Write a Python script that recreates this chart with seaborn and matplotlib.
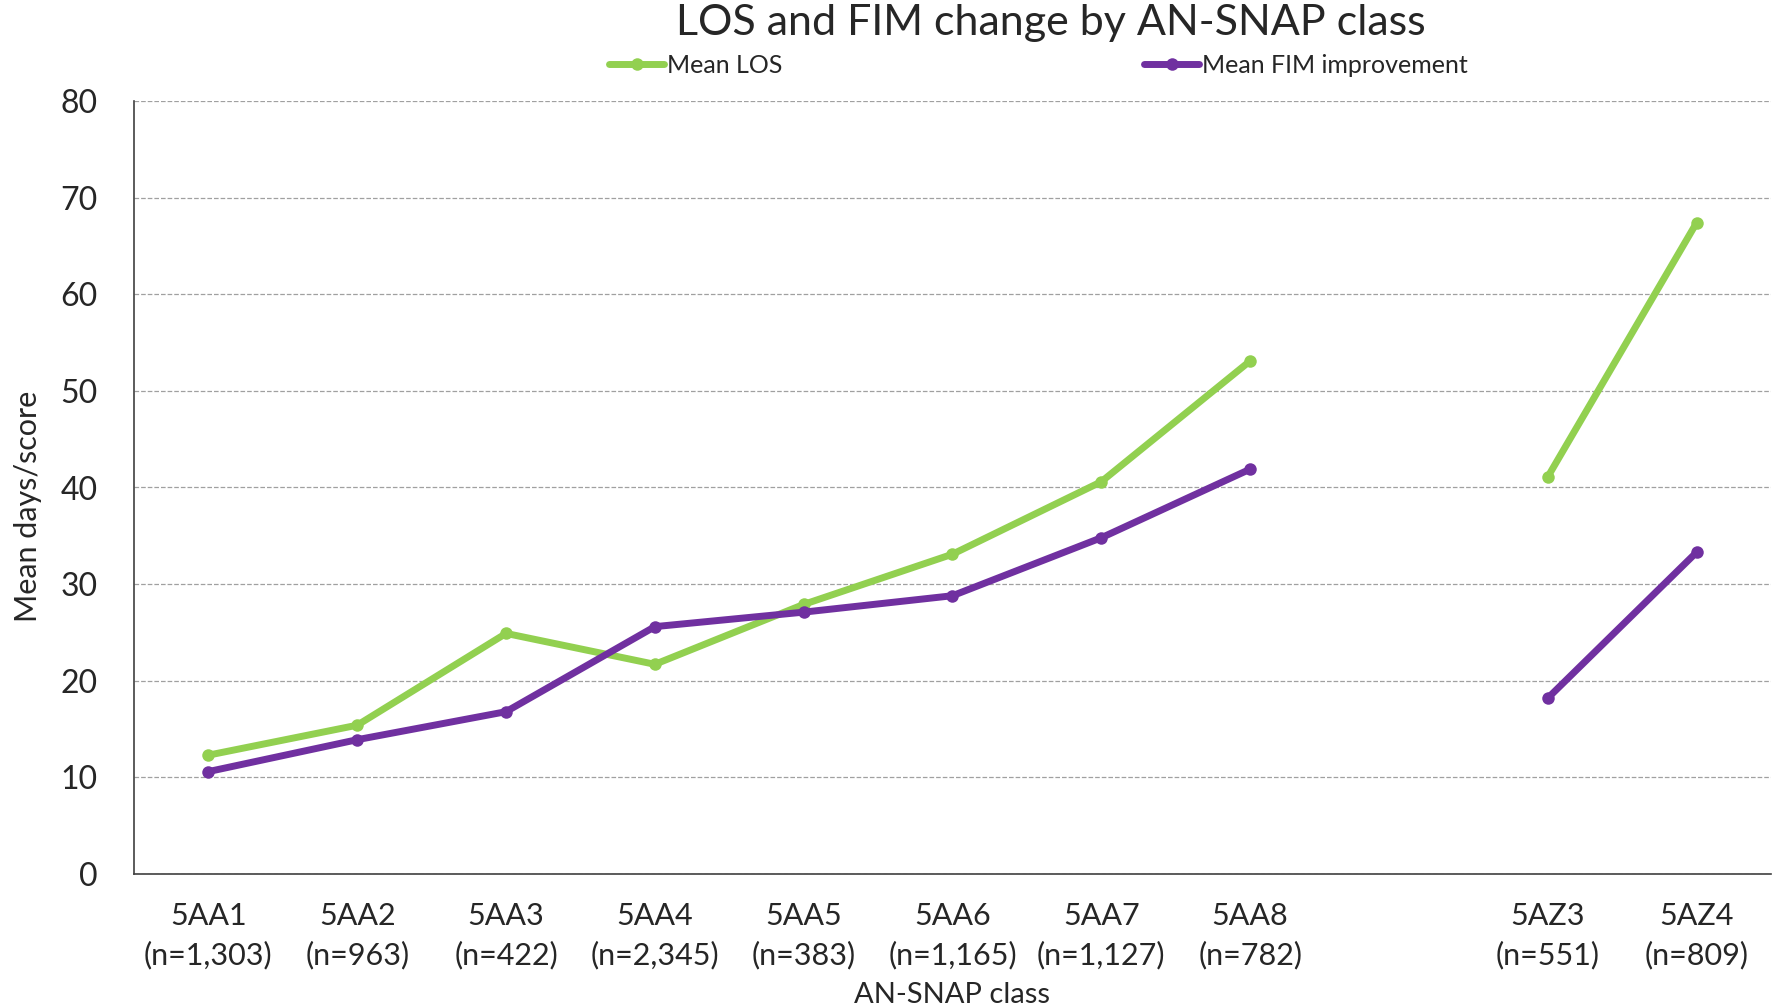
import numpy as np
import pandas as pd
import matplotlib
matplotlib.use('Agg')
import matplotlib.pyplot as plt
from matplotlib.lines import Line2D
import seaborn as sns

# categories (blank slot between the AA and AZ groups)
aClass = ['5AA1', '5AA2', '5AA3', '5AA4', '5AA5', '5AA6', '5AA7', '5AA8', '', '5AZ3', '5AZ4']
aCount = ['1,303', '963', '422', '2,345', '383', '1,165', '1,127', '782', '', '551', '809']
aLos = [12.3, 15.4, 24.9, 21.7, 27.9, 33.1, 40.6, 53.1, np.nan, 41.1, 67.4]
aFim = [10.6, 13.9, 16.8, 25.6, 27.1, 28.8, 34.8, 41.9, np.nan, 18.2, 33.3]
aGroup = ['AA'] * 8 + [''] * 1 + ['AZ'] * 2

sns.set_theme(style='white')
plt.rcParams['font.family'] = ['Lato', 'DejaVu Sans']

rows = []
for i in range(len(aClass)):
    if np.isnan(aLos[i]):
        continue
    rows.append({'x': i, 'value': aLos[i], 'series': 'Mean LOS', 'seg': aGroup[i]})
    rows.append({'x': i, 'value': aFim[i], 'series': 'Mean FIM improvement', 'seg': aGroup[i]})
df = pd.DataFrame(rows)

fig = plt.figure(figsize=(17.78, 10.08), dpi=100)
ax = fig.add_axes([134 / 1778, 1 - 874 / 1008, (1771 - 134) / 1778, (874 - 101) / 1008])

palette = {'Mean LOS': '#92D050', 'Mean FIM improvement': '#7030A0'}
sns.lineplot(data=df, x='x', y='value', hue='series', units='seg', estimator=None,
             palette=palette, linewidth=5, marker='o', markersize=9,
             markeredgewidth=0, ax=ax, legend=False, sort=True)

ax.set_xlim(-0.5, len(aClass) - 0.5)
ax.set_ylim(0, 80)
ax.set_yticks(range(0, 81, 10))
ax.set_yticklabels([str(v) for v in range(0, 81, 10)], fontsize=23)
ax.set_xticks(range(len(aClass)))
aLabel = [c + '\n(n=' + n + ')' if c else '' for c, n in zip(aClass, aCount)]
ax.set_xticklabels(aLabel, fontsize=22, linespacing=1.45)
ax.tick_params(axis='x', length=0, pad=20)
ax.tick_params(axis='y', length=0, pad=26)
ax.yaxis.grid(True, linestyle='--', color='#A0A0A0', linewidth=0.9)
ax.set_axisbelow(True)
for s in ['top', 'right']:
    ax.spines[s].set_visible(False)
for s in ['left', 'bottom']:
    ax.spines[s].set_color('#404040')
    ax.spines[s].set_linewidth(1.2)

ax.set_xlabel('AN-SNAP class', fontsize=21, labelpad=9)
ax.set_ylabel('Mean days/score', fontsize=22)
ax.yaxis.set_label_coords(-0.056, 0.475)

fig.text(0.591, 0.977, 'LOS and FIM change by AN-SNAP class', fontsize=31,
         ha='center', va='center')

aHandle = [Line2D([], [], color=palette[k], linewidth=5, marker='o', markersize=9,
                  markeredgewidth=0) for k in palette]
fig.legend(aHandle, list(palette.keys()), loc='center', bbox_to_anchor=(0.584, 0.935),
           ncol=2, frameon=False, fontsize=18, columnspacing=14.5, handlelength=2.2,
           handletextpad=0.1)

plt.savefig('out.png', dpi=100)
